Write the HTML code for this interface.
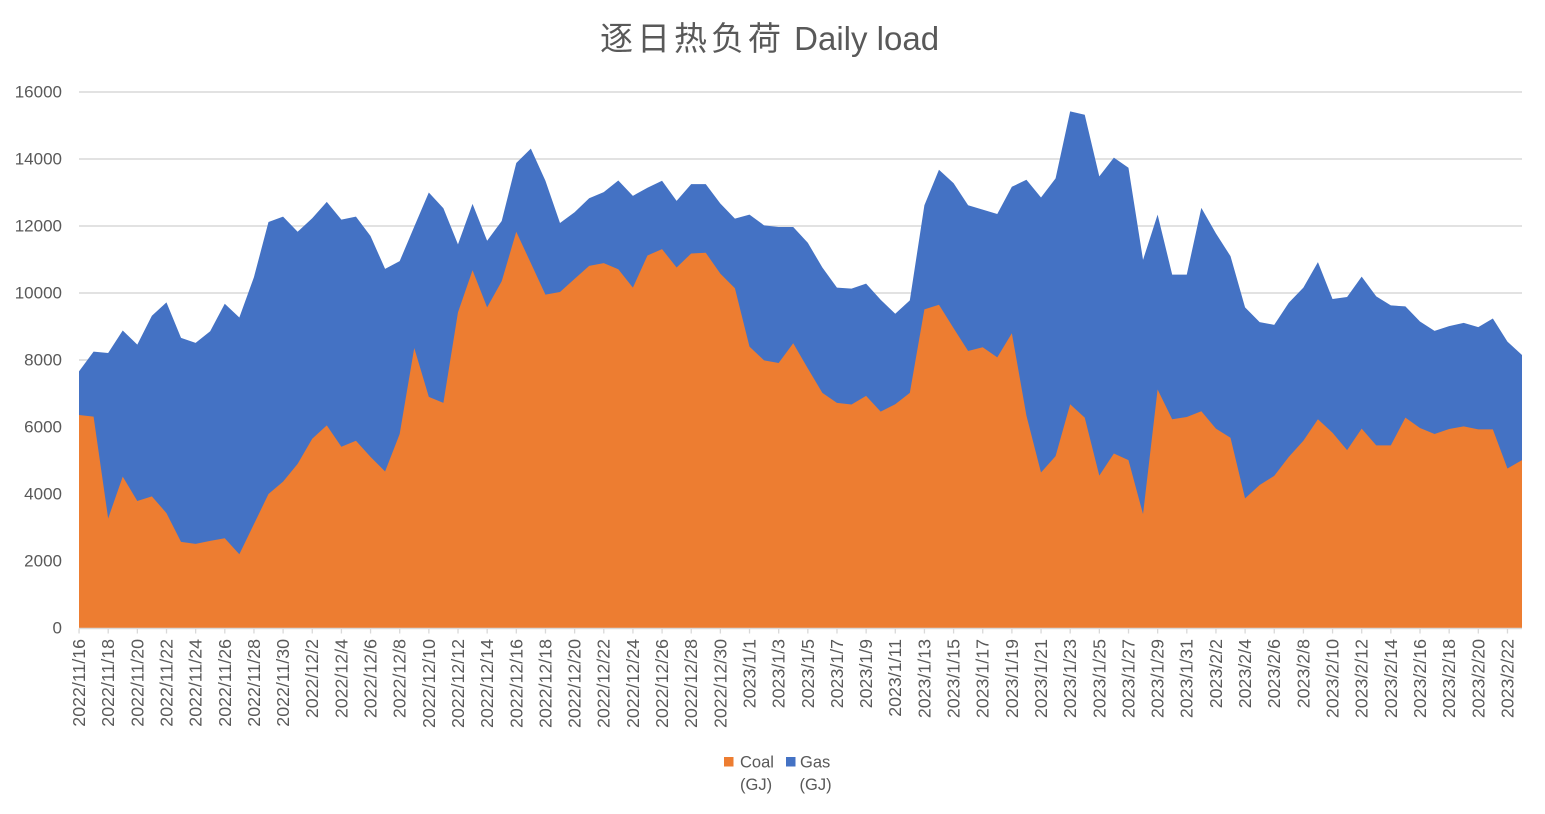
<!DOCTYPE html>
<html>
<head>
<meta charset="utf-8">
<style>
html,body{margin:0;padding:0;background:#fff;}
body{width:1545px;height:814px;overflow:hidden;}
svg{display:block;}
text{font-family:"Liberation Sans","Noto Sans CJK SC",sans-serif;fill:#595959;}
</style>
</head>
<body>
<svg width="1545" height="814" viewBox="0 0 1545 814" xmlns="http://www.w3.org/2000/svg">
<rect width="1545" height="814" fill="#fff"/>
<!-- title -->
<text x="600" y="50" font-size="33"><tspan font-family="'Noto Sans CJK SC','WenQuanYi Zen Hei',sans-serif" letter-spacing="4">逐日热负荷</tspan><tspan font-family="'Liberation Sans',sans-serif"> Daily load</tspan></text>

<!-- gridlines -->
<g stroke="#D9D9D9" stroke-width="1.4">
<line x1="79" y1="92" x2="1522" y2="92"/>
<line x1="79" y1="159" x2="1522" y2="159"/>
<line x1="79" y1="226" x2="1522" y2="226"/>
<line x1="79" y1="293" x2="1522" y2="293"/>
<line x1="79" y1="360" x2="1522" y2="360"/>
<line x1="79" y1="427" x2="1522" y2="427"/>
<line x1="79" y1="494" x2="1522" y2="494"/>
<line x1="79" y1="561" x2="1522" y2="561"/>
</g>

<!-- data areas -->
<g transform="matrix(14.5758 0 0 -33.5 79 628)">
<polygon fill="#4472C4" points="0,0 0,7.66 1,8.25 2,8.21 3,8.88 4,8.46 5,9.32 6,9.72 7,8.66 8,8.51 9,8.86 10,9.68 11,9.27 12,10.47 13,12.12 14,12.28 15,11.83 16,12.23 17,12.72 18,12.19 19,12.28 20,11.70 21,10.72 22,10.95 23,11.98 24,13.00 25,12.53 26,11.45 27,12.66 28,11.56 29,12.15 30,13.88 31,14.31 32,13.35 33,12.09 34,12.41 35,12.83 36,13.01 37,13.36 38,12.90 39,13.14 40,13.35 41,12.75 42,13.25 43,13.25 44,12.67 45,12.22 46,12.34 47,12.02 48,11.97 49,11.97 50,11.50 51,10.76 52,10.16 53,10.13 54,10.28 55,9.80 56,9.38 57,9.78 58,12.62 59,13.68 60,13.28 61,12.62 62,12.49 63,12.36 64,13.17 65,13.38 66,12.85 67,13.42 68,15.42 69,15.32 70,13.48 71,14.04 72,13.74 73,10.99 74,12.34 75,10.55 76,10.55 77,12.54 78,11.78 79,11.10 80,9.57 81,9.13 82,9.05 83,9.71 84,10.16 85,10.92 86,9.82 87,9.88 88,10.49 89,9.90 90,9.63 91,9.60 92,9.15 93,8.87 94,9.01 95,9.11 96,8.98 97,9.24 98,8.55 99,8.15 99,0"/>
<polygon fill="#ED7D31" points="0,0 0,6.36 1,6.31 2,3.27 3,4.52 4,3.79 5,3.93 6,3.43 7,2.57 8,2.51 9,2.60 10,2.68 11,2.20 12,3.10 13,4.00 14,4.37 15,4.90 16,5.65 17,6.05 18,5.41 19,5.59 20,5.11 21,4.67 22,5.79 23,8.36 24,6.90 25,6.72 26,9.42 27,10.68 28,9.57 29,10.35 30,11.83 31,10.89 32,9.95 33,10.03 34,10.42 35,10.81 36,10.89 37,10.71 38,10.16 39,11.12 40,11.31 41,10.76 42,11.18 43,11.20 44,10.58 45,10.14 46,8.40 47,7.99 48,7.91 49,8.50 50,7.75 51,7.02 52,6.72 53,6.67 54,6.93 55,6.46 56,6.68 57,7.02 58,9.51 59,9.65 60,8.95 61,8.27 62,8.38 63,8.08 64,8.80 65,6.34 66,4.64 67,5.13 68,6.68 69,6.28 70,4.55 71,5.21 72,5.01 73,3.40 74,7.12 75,6.23 76,6.30 77,6.47 78,5.95 79,5.68 80,3.87 81,4.27 82,4.54 83,5.11 84,5.59 85,6.23 86,5.83 87,5.31 88,5.95 89,5.45 90,5.45 91,6.28 92,5.97 93,5.79 94,5.94 95,6.02 96,5.93 97,5.93 98,4.76 99,5.01 99,0"/>
</g>

<!-- x axis line and ticks -->
<line x1="79" y1="628.5" x2="1522" y2="628.5" stroke="#D9D9D9" stroke-width="1.4"/>
<line x1="78.4" y1="631" x2="1525" y2="631" stroke="#D9D9D9" stroke-width="5" stroke-dasharray="1.3 27.8515"/>

<!-- y labels -->
<g font-size="17" text-anchor="end" dominant-baseline="central">
<text x="62" y="92">16000</text>
<text x="62" y="159">14000</text>
<text x="62" y="226">12000</text>
<text x="62" y="293">10000</text>
<text x="62" y="360">8000</text>
<text x="62" y="427">6000</text>
<text x="62" y="494">4000</text>
<text x="62" y="561">2000</text>
<text x="62" y="628">0</text>
</g>

<!-- x labels -->
<g font-size="17.8" text-anchor="end" dominant-baseline="central">
<text transform="translate(79.0,639) rotate(-90)">2022/11/16</text>
<text transform="translate(108.15,639) rotate(-90)">2022/11/18</text>
<text transform="translate(137.3,639) rotate(-90)">2022/11/20</text>
<text transform="translate(166.45,639) rotate(-90)">2022/11/22</text>
<text transform="translate(195.6,639) rotate(-90)">2022/11/24</text>
<text transform="translate(224.76,639) rotate(-90)">2022/11/26</text>
<text transform="translate(253.9,639) rotate(-90)">2022/11/28</text>
<text transform="translate(283.06,639) rotate(-90)">2022/11/30</text>
<text transform="translate(312.2,639) rotate(-90)">2022/12/2</text>
<text transform="translate(341.36,639) rotate(-90)">2022/12/4</text>
<text transform="translate(370.5,639) rotate(-90)">2022/12/6</text>
<text transform="translate(399.67,639) rotate(-90)">2022/12/8</text>
<text transform="translate(428.8,639) rotate(-90)">2022/12/10</text>
<text transform="translate(457.97,639) rotate(-90)">2022/12/12</text>
<text transform="translate(487.1,639) rotate(-90)">2022/12/14</text>
<text transform="translate(516.27,639) rotate(-90)">2022/12/16</text>
<text transform="translate(545.4,639) rotate(-90)">2022/12/18</text>
<text transform="translate(574.58,639) rotate(-90)">2022/12/20</text>
<text transform="translate(603.7,639) rotate(-90)">2022/12/22</text>
<text transform="translate(632.9,639) rotate(-90)">2022/12/24</text>
<text transform="translate(662.0,639) rotate(-90)">2022/12/26</text>
<text transform="translate(691.2,639) rotate(-90)">2022/12/28</text>
<text transform="translate(720.3,639) rotate(-90)">2022/12/30</text>
<text transform="translate(749.5,639) rotate(-90)">2023/1/1</text>
<text transform="translate(778.6,639) rotate(-90)">2023/1/3</text>
<text transform="translate(807.8,639) rotate(-90)">2023/1/5</text>
<text transform="translate(836.9,639) rotate(-90)">2023/1/7</text>
<text transform="translate(866.1,639) rotate(-90)">2023/1/9</text>
<text transform="translate(895.2,639) rotate(-90)">2023/1/11</text>
<text transform="translate(924.4,639) rotate(-90)">2023/1/13</text>
<text transform="translate(953.5,639) rotate(-90)">2023/1/15</text>
<text transform="translate(982.7,639) rotate(-90)">2023/1/17</text>
<text transform="translate(1011.8,639) rotate(-90)">2023/1/19</text>
<text transform="translate(1041.0,639) rotate(-90)">2023/1/21</text>
<text transform="translate(1070.1,639) rotate(-90)">2023/1/23</text>
<text transform="translate(1099.3,639) rotate(-90)">2023/1/25</text>
<text transform="translate(1128.4,639) rotate(-90)">2023/1/27</text>
<text transform="translate(1157.6,639) rotate(-90)">2023/1/29</text>
<text transform="translate(1186.7,639) rotate(-90)">2023/1/31</text>
<text transform="translate(1215.9,639) rotate(-90)">2023/2/2</text>
<text transform="translate(1245.1,639) rotate(-90)">2023/2/4</text>
<text transform="translate(1274.2,639) rotate(-90)">2023/2/6</text>
<text transform="translate(1303.4,639) rotate(-90)">2023/2/8</text>
<text transform="translate(1332.5,639) rotate(-90)">2023/2/10</text>
<text transform="translate(1361.7,639) rotate(-90)">2023/2/12</text>
<text transform="translate(1390.8,639) rotate(-90)">2023/2/14</text>
<text transform="translate(1420.0,639) rotate(-90)">2023/2/16</text>
<text transform="translate(1449.1,639) rotate(-90)">2023/2/18</text>
<text transform="translate(1478.3,639) rotate(-90)">2023/2/20</text>
<text transform="translate(1507.4,639) rotate(-90)">2023/2/22</text>
</g>

<!-- legend -->
<rect x="724" y="757" width="9.5" height="9.5" fill="#ED7D31"/>
<rect x="786" y="757" width="9.5" height="9.5" fill="#4472C4"/>
<g font-size="16.5">
<text x="740" y="767.5">Coal</text>
<text x="740" y="790">(GJ)</text>
<text x="800" y="767.5">Gas</text>
<text x="799.5" y="790">(GJ)</text>
</g>
</svg>
</body>
</html>
